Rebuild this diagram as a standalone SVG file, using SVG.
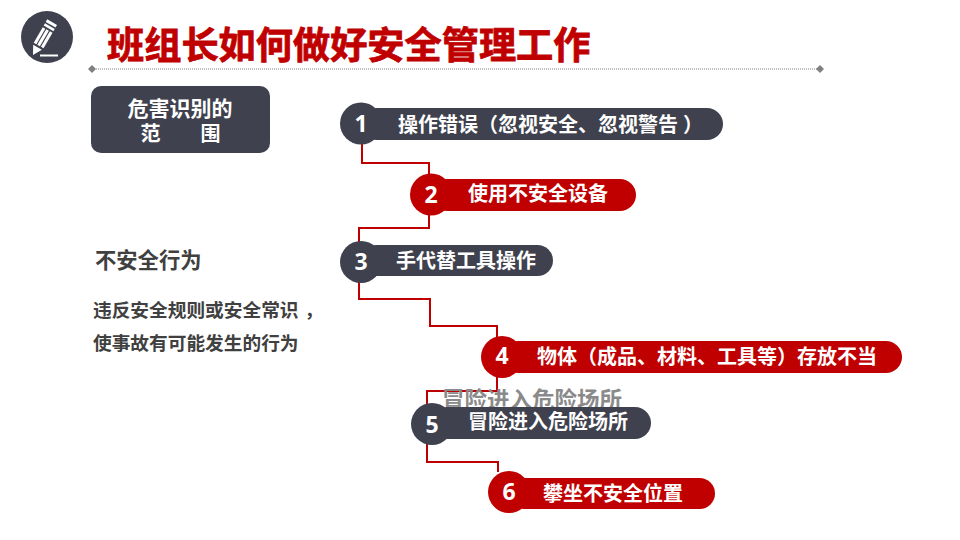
<svg xmlns="http://www.w3.org/2000/svg" width="960" height="540" viewBox="0 0 960 540">
<style>
text{font-family:"Liberation Sans","Noto Sans CJK SC",sans-serif;font-weight:700}
.dark{fill:#3f414e}
.red{fill:#c00000}
.lbl{fill:#fff;font-size:20px}
.num{fill:#fff;font-family:"Open Sans","Liberation Sans",sans-serif;font-size:23px;text-anchor:middle}
.side{fill:#404040}
.conn{fill:none;stroke:#c00000;stroke-width:2}
.dia{fill:#808080}
</style>
<rect width="960" height="540" fill="#fff"/>
<g id="icon">
<circle class="dark" cx="47" cy="37" r="26"/>
<g transform="translate(33,55) rotate(30)" fill="#fff">
<polygon points="0,0 -5,-9 5,-9"/>
<rect x="-5.5" y="-29" width="3" height="18"/>
<rect x="-1.4" y="-29" width="3" height="18"/>
<rect x="2.8" y="-29" width="3" height="18"/>
<rect x="-5.5" y="-38" width="11.3" height="3"/>
<rect x="-5.5" y="-33.500" width="11.3" height="2.600"/>
</g>
<rect x="40" y="54.500" width="18" height="2" fill="#fff"/>
</g>
<g id="title"><text x="107" y="58.500" font-size="37.200" fill="#c00000" stroke="#c00000" stroke-width="0.800">班组长如何做好安全管理工作</text></g>
<g id="rule">
<line x1="92" y1="69" x2="820" y2="69" stroke="#808080" stroke-width="1" stroke-dasharray="1 1"/>
<polygon class="dia" points="92,65 96,69 92,73 88,69"/>
<polygon class="dia" points="820,65 824,69 820,73 816,69"/>
</g>
<g id="scope">
<rect class="dark" x="91" y="86" width="179" height="67" rx="10"/>
<text x="180" y="116" font-size="21" fill="#fff" text-anchor="middle">危害识别的</text>
<text x="180.500" y="141" font-size="20" fill="#fff" text-anchor="middle" xml:space="preserve">范　　围</text>
</g>
<g id="side">
<text class="side" x="95" y="267.500" font-size="21.300">不安全行为</text>
<text class="side" x="93" y="316.500" font-size="18.700">违反安全规则或安全常识<tspan dx="6">，</tspan></text>
<text class="side" x="93" y="350" font-size="18.700">使事故有可能发生的行为</text>
</g>
<g id="connectors">
<path class="conn" d="M362 144V163H429V174"/>
<path class="conn" d="M429 215V228H359V242"/>
<path class="conn" d="M359 282V299H430V326H497V337"/>
<path class="conn" d="M497 377V391H427V404"/>
<path class="conn" d="M427 444V462H498V472"/>
</g>
<g id="ghost"><text x="442" y="407.500" font-size="22.500" fill="#8a8a8a">冒险进入危险场所</text></g>
<g id="n1">
<rect class="dark" x="361" y="108" width="362" height="32" rx="16"/>
<circle class="dark" cx="361" cy="123.500" r="21"/>
<text class="num" x="361" y="131.500">1</text>
<text class="lbl" x="398" y="132">操作错误（忽视安全、忽视警告<tspan dx="5">）</tspan></text>
</g>
<g id="n2">
<rect class="red" x="431" y="179" width="205" height="32" rx="16"/>
<circle class="red" cx="431" cy="194.500" r="21"/>
<text class="num" x="431" y="203">2</text>
<text class="lbl" x="468" y="201">使用不安全设备</text>
</g>
<g id="n3">
<rect class="dark" x="361" y="245" width="192" height="31" rx="15.500"/>
<circle class="dark" cx="361" cy="262" r="21"/>
<text class="num" x="361" y="270">3</text>
<text class="lbl" x="396" y="268">手代替工具操作</text>
</g>
<g id="n4">
<rect class="red" x="502" y="341" width="400" height="32" rx="16"/>
<circle class="red" cx="502" cy="357" r="21"/>
<text class="num" x="502" y="364">4</text>
<text class="lbl" x="537" y="364">物体（成品、材料、工具等）存放不当</text>
</g>
<g id="n5">
<rect class="dark" x="432" y="407" width="219" height="32" rx="16"/>
<circle class="dark" cx="432" cy="424" r="21"/>
<text class="num" x="432" y="433">5</text>
<text class="lbl" x="468" y="429">冒险进入危险场所</text>
</g>
<g id="n6">
<rect class="red" x="509" y="478" width="206" height="31" rx="15.500"/>
<circle class="red" cx="509" cy="492" r="21"/>
<text class="num" x="509" y="500">6</text>
<text class="lbl" x="543" y="501">攀坐不安全位置</text>
</g>
</svg>
